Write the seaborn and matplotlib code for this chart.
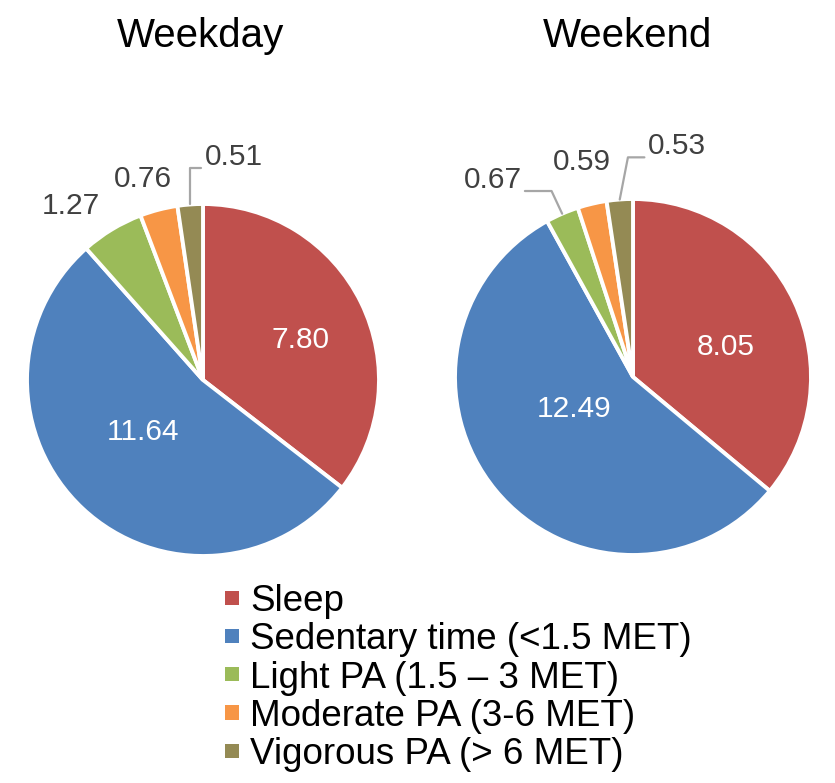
import numpy as np
import matplotlib
matplotlib.use("Agg")
import matplotlib.pyplot as plt
import seaborn as sns
from matplotlib.patches import Patch

# Data
categories = ["Sleep", "Sedentary time (<1.5 MET)", "Light PA (1.5 – 3 MET)",
              "Moderate PA (3-6 MET)", "Vigorous PA (> 6 MET)"]
weekday = [7.80, 11.64, 1.27, 0.76, 0.51]
weekend = [8.05, 12.49, 0.67, 0.59, 0.53]
titles = ["Weekday", "Weekend"]

colors = sns.color_palette(["#C0504D", "#4F81BD", "#9BBB59", "#F79646", "#948A54"])

sns.set_theme(style="white")
plt.rcParams["font.family"] = ["Liberation Sans", "DejaVu Sans"]

W, H = 835, 783
fig = plt.figure(figsize=(W / 100, H / 100), dpi=100)

# pie centre / radius in pixels
pies = [(203, 380, 176), (633, 377, 178)]
# label placement per slice: radial distance and angle nudge (degrees)
label_r = [[0.60, 0.45, 1.24, 1.19, 1.28], [0.55, 0.38, 1.36, 1.24, 1.32]]
label_da = [[-4, -6, 6, 2, -12], [-7, -11, 12, 0, -15]]
# leader lines: None or (relpos, angleB)
leaders = [[None, None, None, None, ((0, 0.1), 90)],
           [None, None, ((1, 0.1), 115), None, ((0, 0.1), 79)]]

for k, vals in enumerate([weekday, weekend]):
    cx, cy, r = pies[k]
    ax = fig.add_axes([(cx - r) / W, (H - cy - r) / H, 2 * r / W, 2 * r / H])
    wedges, _ = ax.pie(vals, colors=colors, startangle=90, counterclock=False,
                       wedgeprops=dict(edgecolor="white", linewidth=2.8))
    ax.set_xlim(-1, 1)
    ax.set_ylim(-1, 1)
    ax.axis("off")

    for i, w in enumerate(wedges):
        mid = (w.theta1 + w.theta2) / 2
        ang = np.deg2rad(mid + label_da[k][i])
        lx, ly = label_r[k][i] * np.cos(ang), label_r[k][i] * np.sin(ang)
        txt = f"{vals[i]:.2f}"
        inside = label_r[k][i] < 1
        col = "white" if inside else "#404040"
        if leaders[k][i] is None:
            ax.text(lx, ly, txt, ha="center", va="center", fontsize=21.5,
                    color=col, clip_on=False)
        else:
            rp, ab = leaders[k][i]
            m = np.deg2rad(mid)
            ax.annotate(txt, xy=(np.cos(m), np.sin(m)), xytext=(lx, ly),
                        ha="center", va="center", fontsize=21.5, color=col,
                        annotation_clip=False,
                        arrowprops=dict(arrowstyle="-", color="#A6A6A6", lw=1.6,
                                        shrinkA=0, shrinkB=0, relpos=rp,
                                        connectionstyle=f"angle,angleA=0,angleB={ab},rad=0"))

# titles
fig.text(200 / W, 1 - 47 / H, titles[0], ha="center", va="baseline", fontsize=29, color="black")
fig.text(628 / W, 1 - 47 / H, titles[1], ha="center", va="baseline", fontsize=29, color="black")

# legend
handles = [Patch(facecolor=c, edgecolor="none") for c in colors]
fig.legend(handles, categories, loc="upper left", bbox_to_anchor=(225 / W, 1 - 584 / H),
           frameon=False, fontsize=26.5, handlelength=0.38, handleheight=0.22,
           handletextpad=0.3, labelspacing=0.09, borderpad=0, borderaxespad=0,
           labelcolor="black")

fig.savefig("out.png", dpi=100)
